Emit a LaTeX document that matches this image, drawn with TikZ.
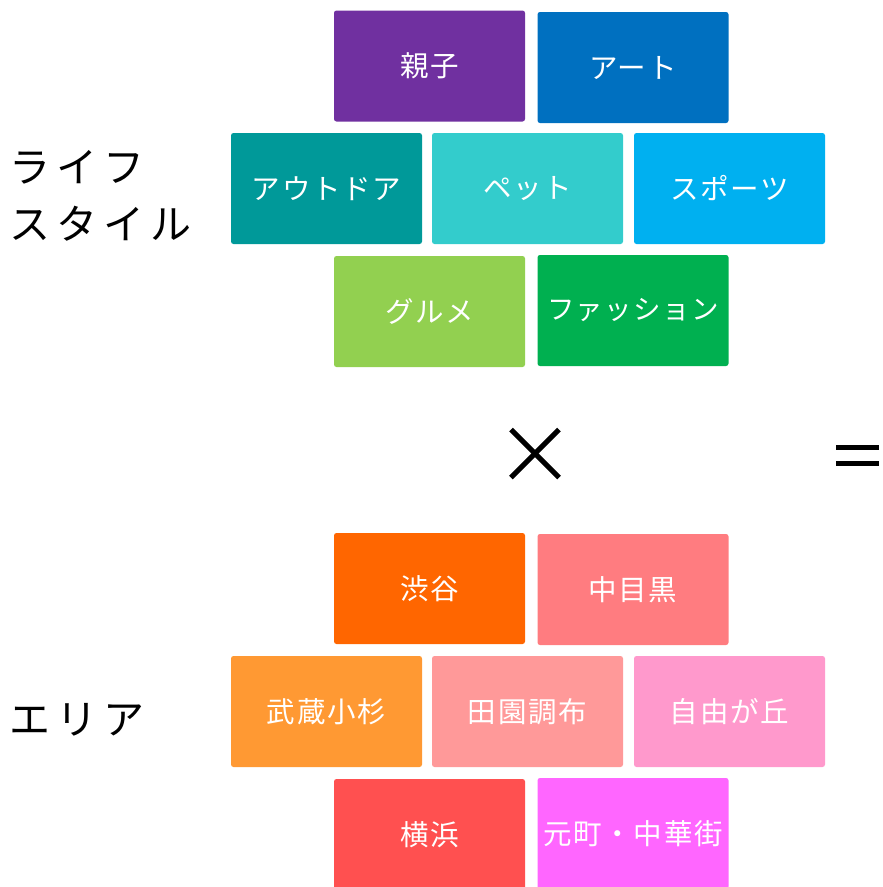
\documentclass[tikz,border=0pt]{standalone}
\usepackage{fontspec}
\usetikzlibrary{calc}
\setmainfont{Noto Sans CJK JP}
\newfontfamily\jpfont{Noto Sans CJK JP}
\newfontfamily\jpwide{Noto Sans CJK JP}[LetterSpace=6]
\newfontfamily\jplabel{Noto Sans CJK JP}[LetterSpace=15]
\newfontfamily\jpfash{Noto Sans CJK JP}[LetterSpace=5]
\definecolor{cOyako}{HTML}{7030A0}
\definecolor{cArt}{HTML}{0070C0}
\definecolor{cOutdoor}{HTML}{009999}
\definecolor{cPet}{HTML}{33CCCC}
\definecolor{cSports}{HTML}{00B0F0}
\definecolor{cGourmet}{HTML}{92D050}
\definecolor{cFashion}{HTML}{00B050}
\definecolor{cShibuya}{HTML}{FF6600}
\definecolor{cNakameguro}{HTML}{FF7C80}
\definecolor{cMusashi}{HTML}{FF9933}
\definecolor{cDenen}{HTML}{FF9999}
\definecolor{cJiyu}{HTML}{FF99CC}
\definecolor{cYokohama}{HTML}{FF5050}
\definecolor{cMotomachi}{HTML}{FF66FF}
\tikzset{
  tile/.style={fill=#1, draw=none, rounded corners=2.5pt, minimum width=191pt, minimum height=111pt, inner sep=0pt, text=white, font=\jpwide\fontsize{28.5}{32}\selectfont},
  biglabel/.style={anchor=west, inner sep=0pt, text=black, font=\jplabel\fontsize{41}{57}\selectfont, align=left},
}
\begin{document}
\begin{tikzpicture}[x=1pt,y=-1pt]
\useasboundingbox (0,0) rectangle (883,887);
\clip (0,0) rectangle (883,887);
% lifestyle tiles
\node[tile=cOyako] (oyako) at (429.5,66) {親子};
\node[tile=cArt] (art) at (633,67.5) {アート};
\node[tile=cOutdoor] (outdoor) at (326.5,188.5) {アウトドア};
\node[tile=cPet] (pet) at (527.5,188.5) {ペット};
\node[tile=cSports] (sports) at (729.5,188.5) {スポーツ};
\node[tile=cGourmet] (gourmet) at (429.5,311.5) {グルメ};
\node[tile=cFashion, font=\jpfash\fontsize{27.5}{30}\selectfont] (fashion) at (633,310.5) {ファッション};
% area tiles
\node[tile=cShibuya] (shibuya) at (429.5,588.5) {渋谷};
\node[tile=cNakameguro] (nakameguro) at (633,589.5) {中目黒};
\node[tile=cMusashi] (musashi) at (326.5,711.5) {武蔵小杉};
\node[tile=cDenen] (denen) at (527.5,711.5) {田園調布};
\node[tile=cJiyu] (jiyu) at (729.5,711.5) {自由が丘};
\node[tile=cYokohama] (yokohama) at (429.5,834.5) {横浜};
\node[tile=cMotomachi] (motomachi) at (633,833.5) {元町・中華街};
% labels
\node[biglabel] (lifestyle) at (9,196) {ライフ\\スタイル};
\node[biglabel] (area) at (9,720) {エリア};
% operators
\coordinate (timesc) at (535,453.5);
\draw[line width=5pt] ($(timesc)+(-24,-24)$) -- ($(timesc)+(24,24)$);
\draw[line width=5pt] ($(timesc)+(-24,24)$) -- ($(timesc)+(24,-24)$);
\coordinate (eqc) at (857.5,455.5);
\draw[line width=4.5pt] ($(eqc)+(-21.5,-8)$) -- ($(eqc)+(21.5,-8)$);
\draw[line width=4.5pt] ($(eqc)+(-21.5,8)$) -- ($(eqc)+(21.5,8)$);
\end{tikzpicture}
\end{document}
